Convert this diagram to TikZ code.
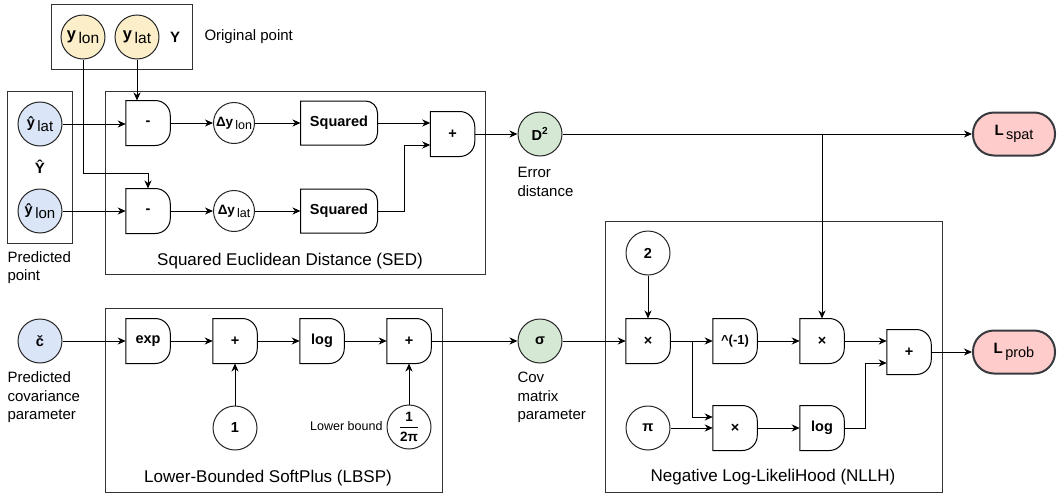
\documentclass[tikz,border=0pt]{standalone}
\usepackage{fontspec}
\setmainfont{Liberation Sans}
\usepackage{amsmath}
\usetikzlibrary{positioning,arrows.meta}

\definecolor{inyellow}{HTML}{FCEEC9}
\definecolor{predblue}{HTML}{DAE5F8}
\definecolor{midgreen}{HTML}{D5E8D4}
\definecolor{losspink}{HTML}{FFCCCC}
\definecolor{darkline}{HTML}{36393D}

% subscript in regular weight, set a bit lower
\newcommand{\subtext}[2][13]{{\fontsize{#1}{#1}\selectfont\mdseries\,\raisebox{-0.45ex}{#2}}}
% gate outline: flat left side, rounded right corners
\newcommand{\gatebody}[2][15pt]{%
  \draw[gateline] (#2.north west) -- ([xshift=-#1]#2.north east)
    arc[start angle=90, end angle=0, radius=#1]
    -- ([yshift=#1]#2.south east)
    arc[start angle=0, end angle=-90, radius=#1]
    -- (#2.south west) -- cycle;}

\tikzset{
  gateline/.style={draw=black, line width=1pt},
  frame/.style={rectangle, draw=black!80, line width=1pt, inner sep=0pt},
  txt/.style={font=\fontsize{15}{18.5}\selectfont, inner sep=2pt},
  boxtxt/.style={font=\fontsize{17}{20}\selectfont, inner sep=2pt},
  var/.style={circle, draw=black!85, line width=1pt, minimum size=44pt,
              inner sep=0pt, font=\bfseries\fontsize{14.5}{17}\selectfont},
  yvar/.style={var, fill=inyellow, font=\bfseries\fontsize{16.5}{18}\selectfont},
  bvar/.style={var, fill=predblue},
  gvar/.style={var, fill=midgreen},
  cvar/.style={var, fill=white},
  dvar/.style={var, minimum size=41pt, font=\bfseries\fontsize{13.5}{15}\selectfont},
  gate/.style={rectangle, minimum width=43.5pt, minimum height=44pt, inner sep=0pt,
               font=\bfseries\fontsize{14.5}{17}\selectfont},
  sqbox/.style={gate, minimum width=76pt, minimum height=43pt},
  loss/.style={rectangle, rounded corners=21pt, draw=darkline, line width=2pt,
               fill=losspink, minimum width=82pt, minimum height=43pt,
               font=\bfseries\fontsize{15}{17}\selectfont}
}

\begin{document}
\begin{tikzpicture}[x=1pt, y=-1pt, node distance=87pt, line width=1pt,
                    >={Stealth[length=8pt, width=7pt, inset=2.5pt]}]
    \useasboundingbox (0,0) rectangle (1057,498);

    % frames
    \node[frame, minimum width=141pt, minimum height=65pt]  (Ybox)    at (121.5,36.5) {};
    \node[frame, minimum width=65pt,  minimum height=152pt] (Yhatbox) at (39.5,167)   {};
    \node[frame, minimum width=380pt, minimum height=183pt] (SEDbox)  at (295,182.5)  {};
    \node[frame, minimum width=337pt, minimum height=184pt] (LBSPbox) at (273.5,400)  {};
    \node[frame, minimum width=337pt, minimum height=271pt] (NLLHbox) at (773.5,356.5) {};

    % original and predicted point
    \node[yvar] (ylon) at (83,37)  {y\subtext[15.5]{lon}};
    \node[yvar] (ylat) at (137,37) {y\subtext[15.5]{lat}};
    \node[txt, font=\bfseries\fontsize{15}{17}\selectfont] (Ylab) at (175,37) {Y};
    \node[txt, anchor=west] (origtxt) at (202,37) {Original point};

    \node[bvar] (yhlat) at (40,124) {ŷ\subtext[15]{lat}};
    \node[txt, font=\bfseries\fontsize{15}{17}\selectfont] (Yhlab) at (40,167) {Ŷ};
    \node[bvar] (yhlon) at (40,211) {ŷ\subtext[15]{lon}};
    \node[txt, anchor=west, align=left] (predtxt) at (5,267.5) {Predicted\\point};

    % SED
    \node[gate]  (sub1) at (148,123) {-};
    \node[gate]  (sub2) at (148,211) {-};
    \node[dvar]  (dlon) at (234,123) {Δy\subtext[12.5]{lon}};
    \node[dvar]  (dlat) at (234,211) {Δy\subtext[12.5]{lat}};
    \node[sqbox] (sq1)  at (339,123) {Squared};
    \node[sqbox] (sq2)  at (339,211) {Squared};
    \node[gate]  (addS) at (452.5,134) {+};
    \node[boxtxt] (SEDtxt) at (290,261) {Squared Euclidean Distance (SED)};
    \node[gvar] (D2) at (540,134) {D\textsuperscript{2}};
    \node[txt, anchor=west, align=left] (errtxt) at (515,182) {Error\\distance};
    \node[loss] (Lspat) at (1014,134) {L\subtext[14.5]{spat}};

    % LBSP
    \node[bvar] (chat) at (40,341) {č};
    \node[txt, anchor=west, align=left] (covtxt) at (5,397.5) {Predicted\\covariance\\parameter};
    \node[gate] (exp) at (148,341) {exp};
    \node[gate, right of=exp]  (addA) {+};
    \node[gate, right of=addA] (logA) {log};
    \node[gate, right of=logA] (addB) {+};
    \node[cvar] (one) at (235,428) {1};
    \node[cvar, font=\bfseries\fontsize{13.5}{15}\selectfont] (inv) at (409,427)
        {$\genfrac{}{}{1.3pt}{0}{\mbox{1}}{\mbox{2π}}$};
    \node[txt, anchor=east, font=\fontsize{12.5}{15}\selectfont] (lbtxt) at (385,426) {Lower bound};
    \node[boxtxt] (LBSPtxt) at (268,478) {Lower-Bounded SoftPlus (LBSP)};
    \node[gvar] (sigma) at (540,341) {σ};
    \node[txt, anchor=west, align=left] (cmtxt) at (515,397.5) {Cov\\matrix\\parameter};

    % NLLH
    \node[cvar] (two) at (648,253) {2};
    \node[gate] (mulA) at (648,341) {×};
    \node[gate, right of=mulA, font=\bfseries\fontsize{13}{15}\selectfont] (powr) {\textasciicircum(-1)};
    \node[gate, right of=powr] (mulB) {×};
    \node[gate] (addN) at (909,352) {+};
    \node[cvar] (pi) at (648,428) {π};
    \node[gate, right of=pi]   (mulC) {×};
    \node[gate, right of=mulC] (logN) {log};
    \node[boxtxt] (NLLHtxt) at (773,477) {Negative Log-LikeliHood (NLLH)};
    \node[loss] (Lprob) at (1014,352) {L\subtext[14.5]{prob}};

    \foreach \g in {sub1,sub2,addS,exp,addA,logA,addB,mulA,powr,mulB,addN,mulC,logN}
        {\gatebody{\g}}
    \foreach \g in {sq1,sq2}
        {\gatebody[12pt]{\g}}

    % bends
    \coordinate (kY)  at (83,173);
    \coordinate (kSq) at (404,145);
    \coordinate (kD)  at (822,134);
    \coordinate (kM)  at (692,341);
    \coordinate (kL)  at (865,363);

    % connectors
    \draw[->] (ylat) -- (ylat |- sub1.north);
    \draw[->] (ylon) -- (kY) -| (sub2);
    \draw[->] (yhlat) -- (yhlat -| sub1.west);
    \draw[->] (yhlon) -- (yhlon -| sub2.west);
    \draw[->] (sub1) -- (dlon);
    \draw[->] (dlon) -- (sq1);
    \draw[->] (sub2) -- (dlat);
    \draw[->] (dlat) -- (sq2);
    \draw[->] (sq1) -- (sq1 -| addS.west);
    \draw[->] (sq2) -| (kSq) -- (kSq -| addS.west);
    \draw[->] (addS) -- (D2);
    \draw[->] (D2) -- (Lspat);
    \draw[->] (kD) -- (mulB);

    \draw[->] (chat) -- (exp);
    \draw[->] (exp) -- (addA);
    \draw[->] (addA) -- (logA);
    \draw[->] (logA) -- (addB);
    \draw[->] (one) -- (addA);
    \draw[->] (inv) -- (addB);
    \draw[->] (addB) -- (sigma);
    \draw[->] (sigma) -- (mulA);

    \draw[->] (two) -- (mulA);
    \draw[->] (mulA) -- (powr);
    \draw[->] (powr) -- (mulB);
    \draw[->] (kM) |- ([yshift=11pt]mulC.west);
    \draw[->] (pi) -- (mulC);
    \draw[->] (mulC) -- (logN);
    \draw[->] (mulB) -- (mulB -| addN.west);
    \draw[->] (logN) -| (kL) -- (kL -| addN.west);
    \draw[->] (addN) -- (Lprob);
\end{tikzpicture}
\end{document}
